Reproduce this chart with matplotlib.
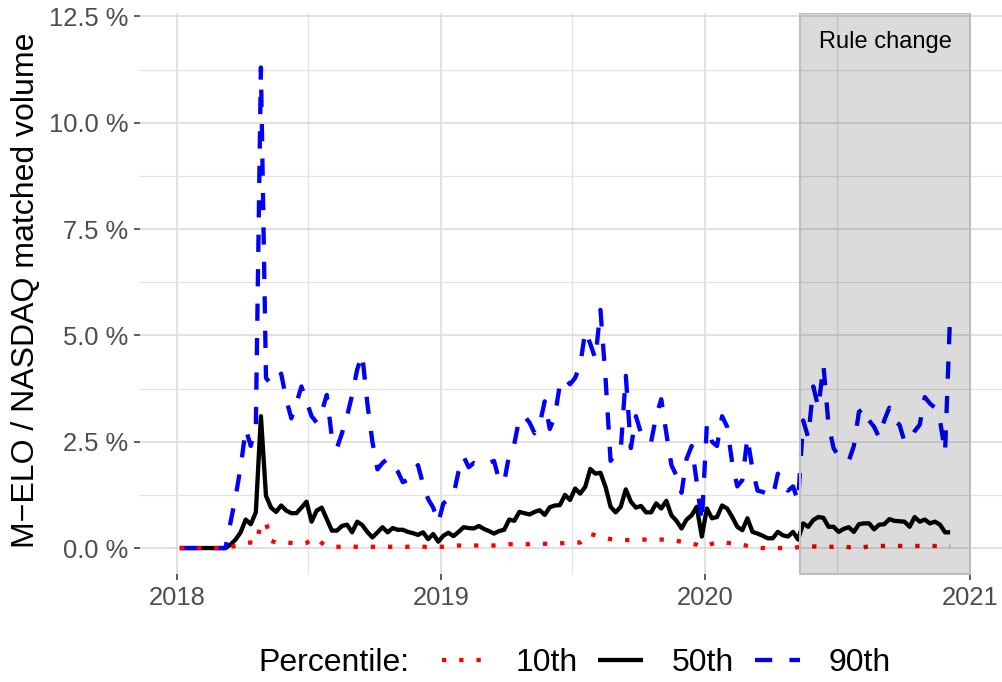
# %%
import matplotlib
matplotlib.use("Agg")
import matplotlib.pyplot as plt
import matplotlib.dates as mdates
from matplotlib.lines import Line2D
from matplotlib.ticker import FuncFormatter, MultipleLocator
import numpy as np
import pandas as pd

plt.rcParams['font.family'] = ['Liberation Sans', 'DejaVu Sans']

# %%
# weekly observations (Fridays), values in percent of NASDAQ matched volume
weeks = pd.date_range('2018-01-05', periods=153, freq='7D')

p10 = [
    0, 0, 0, 0, 0, 0, 0, 0, 0, 0,
    0.03, 0.05, 0.08, 0.12, 0.13, 0.12, 0.55, 0.6, 0.17, 0.13,
    0.12, 0.13, 0.12, 0.11, 0.1, 0.12, 0.2, 0.22, 0.12, 0.05,
    0.03, 0.03, 0.03, 0.03, 0.03, 0.03, 0.03, 0.03, 0.03, 0.03,
    0.03, 0.03, 0.03, 0.03, 0.03, 0.03, 0.03, 0.03, 0.03, 0.03,
    0.03, 0.03, 0.03, 0.04, 0.05, 0.06, 0.06, 0.06, 0.06, 0.06,
    0.06, 0.06, 0.06, 0.07, 0.08, 0.09, 0.09, 0.09, 0.09, 0.09,
    0.1, 0.1, 0.1, 0.11, 0.11, 0.11, 0.12, 0.13, 0.13, 0.13,
    0.25, 0.33, 0.3, 0.27, 0.24, 0.21, 0.2, 0.2, 0.19, 0.19,
    0.19, 0.2, 0.2, 0.2, 0.2, 0.2, 0.2, 0.19, 0.17, 0.15,
    0.11, 0.1, 0.08, 0.03, 0.05, 0.1, 0.14, 0.13, 0.12, 0.11,
    0.1, 0.08, 0.05, 0.02, 0.01, 0.0, 0.0, 0.0, 0.0, 0.0,
    0.0, 0.0, 0.02, 0.04, 0.05, 0.04, 0.03, 0.03, 0.03, 0.03,
    0.03, 0.03, 0.02, 0.01, 0.0, 0.02, 0.04, 0.05, 0.05, 0.05,
    0.05, 0.05, 0.05, 0.05, 0.05, 0.05, 0.05, 0.05, 0.05, 0.05,
    0.05, 0.05, 0.05,
]

p50 = [
    0, 0, 0, 0, 0, 0, 0, 0, 0, 0,
    0.08, 0.2, 0.37, 0.67, 0.56, 0.84, 3.1, 1.23, 0.95, 0.85,
    1.0, 0.88, 0.82, 0.82, 0.95, 1.09, 0.62, 0.88, 0.95, 0.68,
    0.41, 0.41, 0.52, 0.55, 0.37, 0.62, 0.54, 0.38, 0.25, 0.37,
    0.49, 0.37, 0.47, 0.43, 0.43, 0.38, 0.35, 0.31, 0.37, 0.21,
    0.33, 0.15, 0.29, 0.36, 0.28, 0.38, 0.49, 0.47, 0.46, 0.52,
    0.45, 0.4, 0.34, 0.4, 0.43, 0.67, 0.64, 0.85, 0.82, 0.79,
    0.85, 0.89, 0.78, 0.96, 1.0, 1.01, 1.25, 1.13, 1.4, 1.28,
    1.44, 1.86, 1.75, 1.77, 1.44, 0.97, 0.84, 0.97, 1.38, 1.09,
    0.95, 0.99, 0.84, 0.84, 1.05, 0.93, 1.11, 0.77, 0.64, 0.46,
    0.67, 0.77, 0.97, 0.27, 0.93, 0.7, 0.73, 1.0, 0.93, 0.73,
    0.5, 0.42, 0.7, 0.38, 0.34, 0.29, 0.23, 0.23, 0.38, 0.3,
    0.27, 0.38, 0.2, 0.58, 0.5, 0.66, 0.73, 0.71, 0.5, 0.5,
    0.38, 0.45, 0.49, 0.38, 0.56, 0.58, 0.58, 0.44, 0.55, 0.56,
    0.68, 0.64, 0.63, 0.62, 0.5, 0.73, 0.62, 0.67, 0.58, 0.62,
    0.55, 0.37, 0.37,
]

p90 = [
    0, 0, 0, 0, 0, 0, 0, 0, 0, 0,
    0.6, 1.2, 1.9, 2.8, 2.4, 2.9, 11.3, 4.0, 3.85, 3.9,
    4.1, 3.5, 3.05, 3.4, 3.8, 3.45, 3.1, 2.95, 3.2, 3.6,
    2.6, 2.35, 2.7, 3.1, 3.6, 4.2, 4.55, 3.4, 2.5, 1.85,
    2.0, 2.1, 1.95, 1.8, 1.55, 1.6, 1.8, 1.95, 1.5, 1.15,
    0.95, 0.6, 1.05, 1.15, 1.25, 1.8, 2.15, 1.9, 2.0, 1.95,
    1.95, 2.0, 2.05, 1.6, 1.55, 2.2, 2.45, 3.05, 3.1, 2.95,
    2.7, 2.9, 3.45, 2.8, 3.1, 3.85, 4.0, 3.85, 4.0, 4.3,
    5.1, 4.8, 4.45, 5.6, 4.0, 2.05, 2.2, 2.3, 4.05, 2.35,
    3.1, 2.7, 2.5, 2.5, 3.1, 3.5, 2.7, 1.95, 1.7, 1.3,
    2.1, 2.4, 1.55, 0.6, 2.9, 2.5, 2.4, 3.1, 2.85, 2.0,
    1.45, 1.6, 2.6, 1.85, 1.35, 1.32, 1.27, 1.2, 1.75, 1.5,
    1.35, 1.45, 1.1, 3.0, 2.6, 3.8, 3.3, 4.3, 2.9, 2.35,
    2.15, 2.1, 2.05, 2.4, 3.2, 3.3, 3.0, 2.85, 2.6, 3.0,
    3.3, 3.0, 2.9, 2.5, 2.55, 2.75, 2.9, 3.55, 3.4, 3.3,
    3.0, 2.25, 5.5,
]

rule_start = pd.Timestamp('2020-05-11')
rule_end = pd.Timestamp('2021-01-01')

# %%
fig = plt.figure(figsize=(10.02, 6.82), dpi=100)
ax = fig.add_axes([140/1002, 1 - 574/682, 869.5/1002, 561/682])

lw = 3.1
ax.plot(weeks, p50, color='black', lw=lw, solid_capstyle='butt', zorder=3)
ax.plot(weeks, p90, color='#0000ff', lw=lw, linestyle=(0, (4, 4)), zorder=4)
ax.plot(weeks, p10, color='#ff0000', lw=lw, linestyle=(0, (1, 3)), zorder=5)

ax.fill_between([rule_start, rule_end], 0, 1, transform=ax.get_xaxis_transform(),
                facecolor=(0, 0, 0, 0.14), edgecolor='#bdbdbd', lw=1.5, zorder=6)
ax.text(rule_start + (rule_end - rule_start) / 2, 11.9, 'Rule change',
        ha='center', va='center', fontsize=17, zorder=7)

ax.set_xlim(pd.Timestamp('2017-11-11'), pd.Timestamp('2021-02-24'))
ax.set_ylim(-0.61, 12.58)

ax.xaxis.set_major_locator(mdates.YearLocator())
ax.xaxis.set_major_formatter(mdates.DateFormatter('%Y'))
ax.xaxis.set_minor_locator(mdates.MonthLocator(bymonth=7))
ax.yaxis.set_major_locator(MultipleLocator(2.5))
ax.yaxis.set_minor_locator(MultipleLocator(1.25))
ax.yaxis.set_major_formatter(FuncFormatter(lambda v, _: f'{v:.1f} %'))

ax.grid(which='major', color='#d9d9d9', lw=1.1)
ax.grid(which='minor', color='#e3e3e3', lw=0.9)
ax.set_axisbelow(True)
for s in ax.spines.values():
    s.set_visible(False)
ax.tick_params(which='major', length=4.3, width=1.1, color='#333333',
               labelsize=18.4, labelcolor='#4d4d4d', pad=4)
ax.tick_params(which='minor', length=0)

fig.text(26/1002, 1 - 290/682, 'M\u2212ELO / NASDAQ matched volume',
         rotation=90, ha='center', va='center', fontsize=23)

# legend along the bottom
handles = [
    Line2D([], [], color='#ff0000', lw=lw, linestyle=(0, (1, 3))),
    Line2D([], [], color='black', lw=lw, solid_capstyle='butt'),
    Line2D([], [], color='#0000ff', lw=lw, linestyle=(0, (4, 4))),
]
fig.text(258/1002, 1 - 663/682, 'Percentile:', ha='left', va='center', fontsize=23)
fig.legend(handles, ['10th', '50th', '90th'], ncol=3, loc='center left',
           bbox_to_anchor=(442/1002, 1 - 663/682), frameon=False, fontsize=23,
           handlelength=1.4, handletextpad=0.9, columnspacing=0.65,
           borderpad=0, borderaxespad=0)

fig.savefig('out.png', dpi=100, facecolor='white')
